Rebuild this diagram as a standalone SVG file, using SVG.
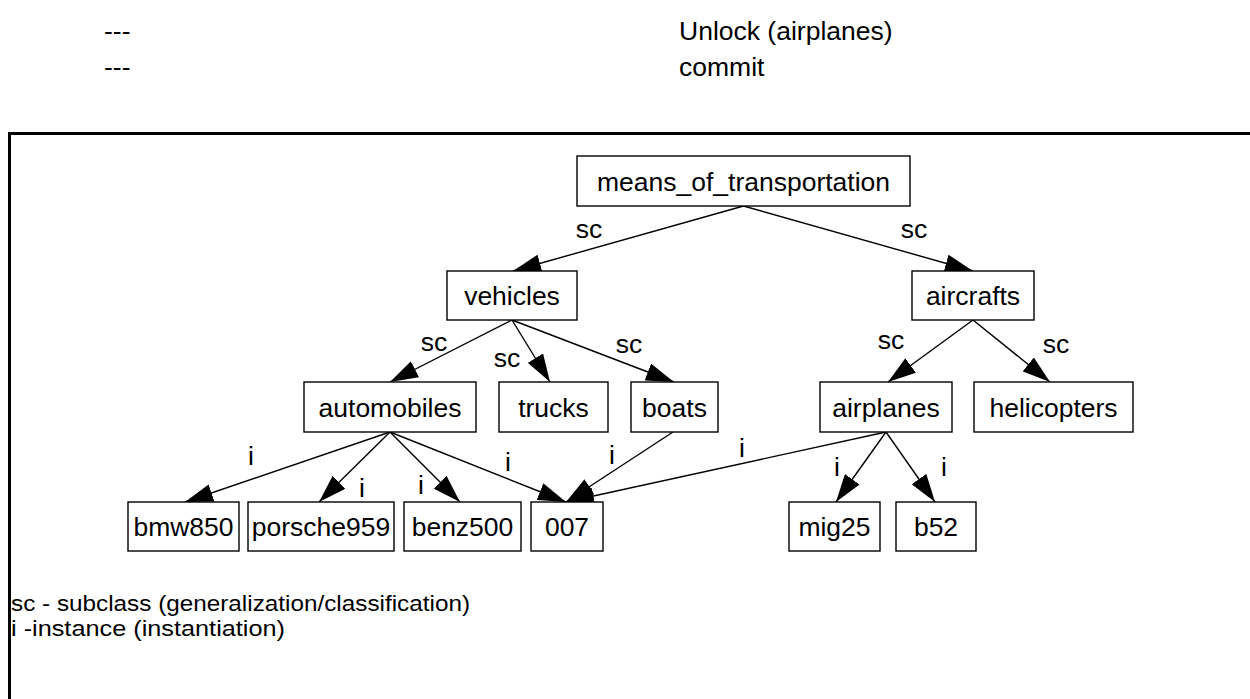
<svg xmlns="http://www.w3.org/2000/svg" width="1250" height="699" viewBox="0 0 1250 699">
<defs>
<style>
text{font-family:"Liberation Sans",Arial,Helvetica,sans-serif;fill:#000}
.n{font-size:26.5px;text-anchor:middle}
.l{font-size:26.5px;text-anchor:middle}
.t{font-size:26.5px}
.g{font-size:22.5px}
.box{fill:#fff;stroke:#000;stroke-width:1.4}
.e{stroke:#000;stroke-width:1.4;fill:none;marker-end:url(#ah)}
</style>
<marker id="ah" markerUnits="userSpaceOnUse" markerWidth="28" markerHeight="18" viewBox="0 0 28 18" refX="28" refY="9" orient="auto">
<path d="M0,0 L28,9 L0,18 z" fill="#000"/>
</marker>
</defs>
<rect width="1250" height="699" fill="#fff"/>
<g id="header">
<text class="t" x="104" y="40">---</text>
<text class="t" x="679" y="40">Unlock (airplanes)</text>
<text class="t" x="104" y="76">---</text>
<text class="t" x="679" y="76">commit</text>
</g>
<path id="frame" d="M9.5,705 V133.5 H1256" fill="none" stroke="#000" stroke-width="3"/>
<g id="connectors">
<line class="e" x1="743.5" y1="206" x2="513" y2="271"/>
<line class="e" x1="743.5" y1="206" x2="973" y2="271"/>
<line class="e" x1="512" y1="320" x2="390" y2="382"/>
<line class="e" x1="512" y1="320" x2="550" y2="382"/>
<line class="e" x1="512" y1="320" x2="674" y2="382"/>
<line class="e" x1="973" y1="320" x2="888" y2="382"/>
<line class="e" x1="973" y1="320" x2="1050" y2="382"/>
<line class="e" x1="390" y1="432" x2="185" y2="502"/>
<line class="e" x1="390" y1="432" x2="319" y2="502"/>
<line class="e" x1="390" y1="432" x2="460" y2="502"/>
<line class="e" x1="390" y1="432" x2="566" y2="502"/>
<line class="e" x1="673" y1="432" x2="566" y2="502"/>
<line class="e" x1="886" y1="432" x2="566" y2="502"/>
<line class="e" x1="886" y1="432" x2="836" y2="502"/>
<line class="e" x1="886" y1="432" x2="935" y2="502"/>
<g id="edge-labels">
<text class="l" x="589" y="238">sc</text>
<text class="l" x="914" y="238">sc</text>
<text class="l" x="434" y="351">sc</text>
<text class="l" x="507" y="367">sc</text>
<text class="l" x="629" y="353">sc</text>
<text class="l" x="891" y="349">sc</text>
<text class="l" x="1056" y="353">sc</text>
<text class="l" x="251" y="465">i</text>
<text class="l" x="362" y="497">i</text>
<text class="l" x="421" y="494">i</text>
<text class="l" x="508" y="471">i</text>
<text class="l" x="612" y="464">i</text>
<text class="l" x="742" y="457">i</text>
<text class="l" x="837" y="476">i</text>
<text class="l" x="944" y="476">i</text>
</g>
</g>
<g id="means_of_transportation"><rect class="box" x="577" y="156" width="333" height="50"/><text class="n" x="743.5" y="190.5">means_of_transportation</text></g>
<g id="vehicles"><rect class="box" x="447" y="271" width="130" height="49"/><text class="n" x="512" y="305">vehicles</text></g>
<g id="aircrafts"><rect class="box" x="912" y="271" width="122" height="49"/><text class="n" x="973" y="305">aircrafts</text></g>
<g id="automobiles"><rect class="box" x="304" y="382" width="172" height="50"/><text class="n" x="390" y="416.5">automobiles</text></g>
<g id="trucks"><rect class="box" x="499" y="382" width="109" height="50"/><text class="n" x="553.5" y="416.5">trucks</text></g>
<g id="boats"><rect class="box" x="631" y="382" width="87" height="50"/><text class="n" x="674.5" y="416.5">boats</text></g>
<g id="airplanes"><rect class="box" x="820" y="382" width="132" height="50"/><text class="n" x="886" y="416.5">airplanes</text></g>
<g id="helicopters"><rect class="box" x="974" y="382" width="159" height="50"/><text class="n" x="1053.5" y="416.5">helicopters</text></g>
<g id="bmw850"><rect class="box" x="128" y="502" width="111" height="49"/><text class="n" x="183.5" y="536">bmw850</text></g>
<g id="porsche959"><rect class="box" x="248" y="502" width="146" height="49"/><text class="n" x="321" y="536">porsche959</text></g>
<g id="benz500"><rect class="box" x="404" y="502" width="117" height="49"/><text class="n" x="462.5" y="536">benz500</text></g>
<g id="n007"><rect class="box" x="531" y="502" width="72" height="49"/><text class="n" x="567" y="536">007</text></g>
<g id="mig25"><rect class="box" x="789" y="502" width="91" height="49"/><text class="n" x="834.5" y="536">mig25</text></g>
<g id="b52"><rect class="box" x="896" y="502" width="80" height="49"/><text class="n" x="936" y="536">b52</text></g>
<g id="legend">
<text class="g" x="11" y="611" textLength="459" lengthAdjust="spacingAndGlyphs">sc - subclass (generalization/classification)</text>
<text class="g" x="11" y="636" textLength="274" lengthAdjust="spacingAndGlyphs">i -instance (instantiation)</text>
</g>
</svg>
